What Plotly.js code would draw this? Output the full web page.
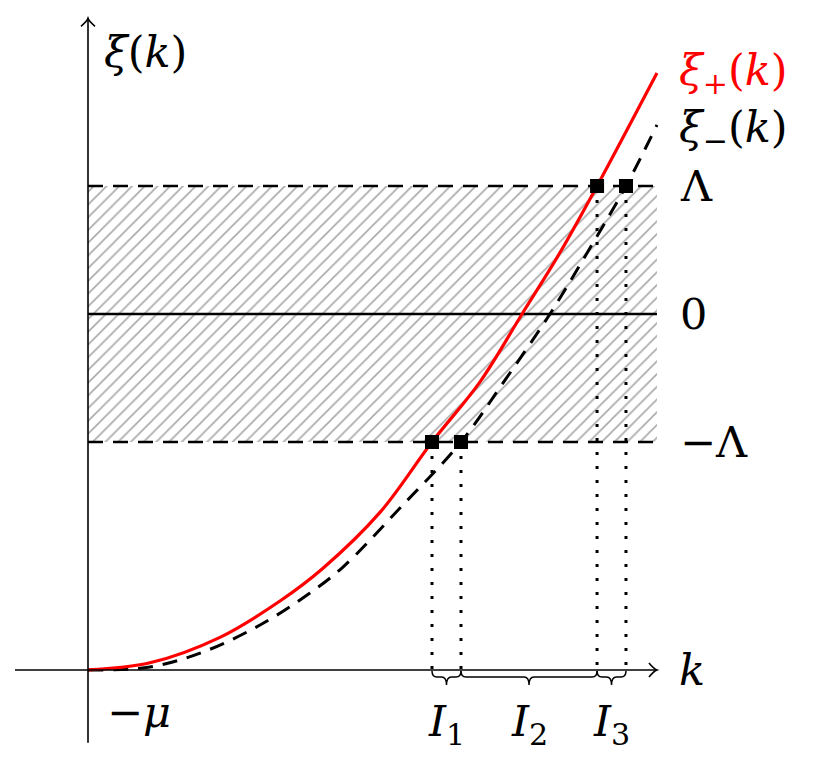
<!DOCTYPE html>
<html>
<head>
<meta charset="utf-8">
<script src="https://cdn.plot.ly/plotly-3.0.1.min.js"></script>
<style>
  html, body { margin: 0; padding: 0; background: #fff; }
  #wykres { width: 829px; height: 776px; }
</style>
</head>
<body>
<div id="wykres"></div>
<script>
// dane (jednostki: Lambda = 1)
const kPlus  = [0, 0.484, 1.031, 1.5, 1.836, 2.281, 2.6875, 3.0625, 3.391, 3.6875, 3.977, 4.445];
const xiPlus = [-2.781, -2.725, -2.526, -2.242, -1.986, -1.55, -1.0, -0.53, 0, 0.48, 1.0, 1.883];
const kMinus  = [0, 0.484, 0.898, 1.344, 1.734, 1.992, 2.4375, 2.914, 3.258, 3.609, 3.922, 4.203, 4.445];
const xiMinus = [-2.781, -2.758, -2.641, -2.430, -2.180, -1.977, -1.516, -1.0, -0.516, 0, 0.516, 1.0, 1.477];

const lambda = 1;
const mu = 2.781;
const kEnd = 4.445;
// punkty przeciecia z +/- Lambda
const kCross = [2.6875, 2.914, 3.977, 4.203];
const xiCross = [-1, -1, 1, 1];
const przedzialy = ['<i>I</i><sub>1</sub>', '<i>I</i><sub>2</sub>', '<i>I</i><sub>3</sub>'];

const px = 1 / 128; // jeden piksel w jednostkach danych
const font = '"DejaVu Serif", serif';
const rozmiar = 43;

// kreskowany prostokat
const traceHatch = {
  x: [0, kEnd, kEnd, 0, 0],
  y: [-lambda, -lambda, lambda, lambda, -lambda],
  mode: 'lines',
  fill: 'toself',
  fillcolor: 'rgba(0,0,0,0)',
  fillpattern: { shape: '/', fgcolor: '#aaaaaa', bgcolor: 'white', size: 9, solidity: 0.18 },
  line: { width: 0 },
  hoverinfo: 'skip'
};

const linia = (xs, ys, kolor, szer, dash) => ({
  x: xs, y: ys, mode: 'lines',
  line: { color: kolor, width: szer, dash: dash },
  hoverinfo: 'skip'
});

const traces = [traceHatch];
traces.push(linia([0, kEnd], [lambda, lambda], 'black', 2.7, '15px,10px'));
traces.push(linia([0, kEnd], [-lambda, -lambda], 'black', 2.7, '15px,10px'));
traces.push(linia([0, kEnd], [0, 0], 'black', 2.5, 'solid'));

// kropkowane linie pionowe
kCross.forEach((k, i) => {
  traces.push(linia([k, k], [xiCross[i], -mu], 'black', 3, '3px,11px'));
});

traces.push({
  x: kMinus, y: xiMinus, mode: 'lines',
  line: { color: 'black', width: 3, dash: '15px,10px', shape: 'spline', smoothing: 1 },
  hoverinfo: 'skip'
});
traces.push({
  x: kPlus, y: xiPlus, mode: 'lines',
  line: { color: '#ff0000', width: 3.2, shape: 'spline', smoothing: 1 },
  hoverinfo: 'skip'
});
traces.push({
  x: kCross, y: xiCross, mode: 'markers',
  marker: { symbol: 'square', size: 14, color: 'black' },
  hoverinfo: 'skip'
});

// osie ze strzalkami
const osXstart = -73 * px, osXkoniec = kEnd;
const osYdol = -3.349, osYgora = 2.31;
const shapes = [
  { type: 'line', x0: osXstart, x1: osXkoniec, y0: -mu, y1: -mu, line: { color: 'black', width: 1.6 } },
  { type: 'line', x0: 0, x1: 0, y0: osYdol, y1: osYgora, line: { color: 'black', width: 1.6 } },
  { type: 'path', path: `M ${osXkoniec - 8 * px},${-mu + 7 * px} Q ${osXkoniec - 3 * px},${-mu + 1 * px} ${osXkoniec},${-mu} Q ${osXkoniec - 3 * px},${-mu - 1 * px} ${osXkoniec - 8 * px},${-mu - 7 * px}`,
    line: { color: 'black', width: 1.6 } },
  { type: 'path', path: `M ${-7 * px},${osYgora - 8 * px} Q ${-1 * px},${osYgora - 3 * px} 0,${osYgora} Q ${1 * px},${osYgora - 3 * px} ${7 * px},${osYgora - 8 * px}`,
    line: { color: 'black', width: 1.6 } }
];

// klamry pod osia k
const granice = [kCross[0], kCross[1], kCross[2], kCross[3]];
const klamra = (a, b) => {
  const y0 = -mu - 1 * px, f = 6 * px, t = 14 * px, r = 5 * px, m = (a + b) / 2;
  return `M ${a},${y0} Q ${a},${y0 - f} ${a + r},${y0 - f} L ${m - r},${y0 - f} Q ${m},${y0 - f} ${m},${y0 - t} ` +
         `Q ${m},${y0 - f} ${m + r},${y0 - f} L ${b - r},${y0 - f} Q ${b},${y0 - f} ${b},${y0}`;
};
for (let i = 0; i < granice.length - 1; i++) {
  shapes.push({ type: 'path', path: klamra(granice[i], granice[i + 1]), line: { color: 'black', width: 1.5 } });
}

const napis = (x, y, text, opcje) => Object.assign({
  x: x, y: y, xref: 'x', yref: 'y', text: text, showarrow: false,
  xanchor: 'left', yanchor: 'middle',
  font: { family: font, size: rozmiar, color: 'black' }
}, opcje || {});

const annotations = [
  napis(0.11, 2.047, '<i>ξ</i>(<i>k</i>)'),
  napis(4.6, 1.883, '<i>ξ</i><sub>+</sub>(<i>k</i>)', { font: { family: font, size: rozmiar, color: '#ff0000' } }),
  napis(4.6, 1.44, '<i>ξ</i><sub>−</sub>(<i>k</i>)'),
  napis(4.609, lambda, 'Λ'),
  napis(4.609, 0, '0'),
  napis(4.609, -lambda, '−Λ'),
  napis(4.60, -mu, '<i>k</i>'),
  napis(0.133, -3.11, '−<i>μ</i>')
];
przedzialy.forEach((t, i) => {
  annotations.push(napis((granice[i] + granice[i + 1]) / 2, -3.2, t, { xanchor: 'center' }));
});

const layout = {
  width: 829,
  height: 776,
  margin: { l: 0, r: 0, t: 0, b: 0 },
  paper_bgcolor: 'white',
  plot_bgcolor: 'white',
  showlegend: false,
  xaxis: { range: [-88 * px, (829 - 88) * px], visible: false, fixedrange: true },
  yaxis: { range: [(314 - 776) * px, 314 * px], visible: false, fixedrange: true },
  shapes: shapes,
  annotations: annotations
};

Plotly.newPlot('wykres', traces, layout, { staticPlot: true });
</script>
</body>
</html>
